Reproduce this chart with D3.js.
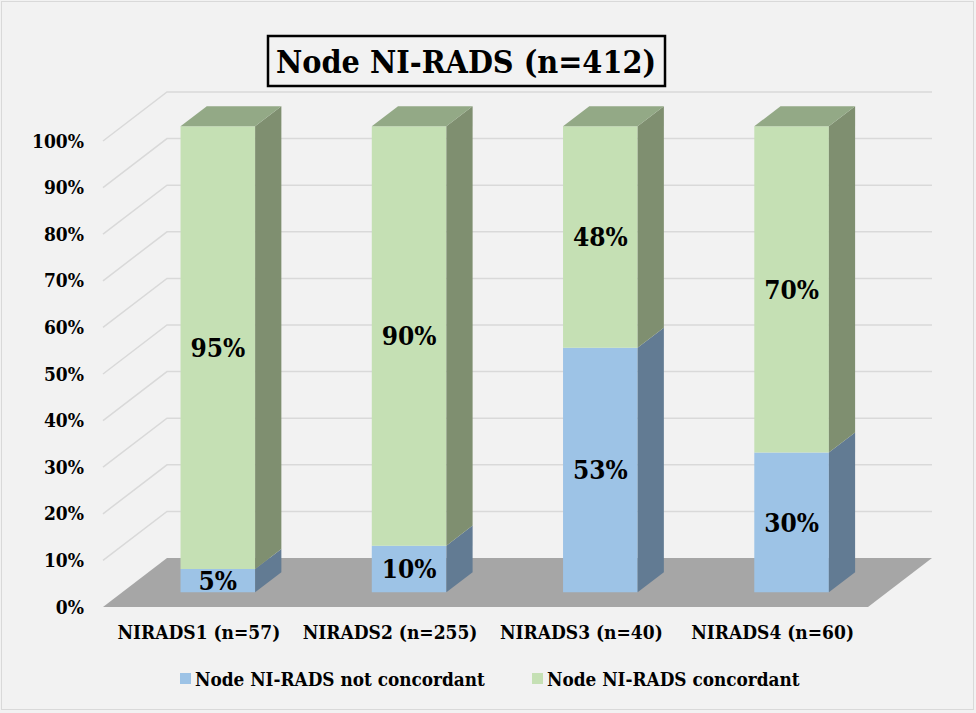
<!DOCTYPE html>
<html>
<head>
<meta charset="utf-8">
<script src="https://cdn.jsdelivr.net/npm/d3@7"></script>
<style>
  body { margin: 0; background: #F2F2F2; }
  svg text { font-weight: bold; fill: #000; }
</style>
</head>
<body>
<div id="chart"></div>
<script>
// data
const categories = ["NIRADS1 (n=57)", "NIRADS2 (n=255)", "NIRADS3 (n=40)", "NIRADS4 (n=60)"];
const notConcordant = [5, 10, 53, 30];
const concordant = [95, 90, 48, 70];
const seriesNames = ["Node NI-RADS not concordant", "Node NI-RADS concordant"];
const yTicks = [0, 10, 20, 30, 40, 50, 60, 70, 80, 90, 100];

const W = 976, H = 713;
const FONT = "'DejaVu Serif Condensed', 'DejaVu Serif', serif";
const depthX = 64, depthY = 49;    // oblique offset of the full floor depth
const barD0 = 0.3, barD1 = 0.71;   // bars sit in the middle of the floor depth

const colors = {
  blue:  { front: "#9DC3E6", side: "#627B93", top: "#7E9CB8" },
  green: { front: "#C5E0B4", side: "#7F8F70", top: "#93A986" }
};

const svg = d3.select("#chart").append("svg")
  .attr("width", W)
  .attr("height", H)
  .style("font-family", FONT);

svg.append("rect")
  .attr("x", 1.5).attr("y", 1.5)
  .attr("width", W - 4).attr("height", H - 5)
  .attr("fill", "#F2F2F2")
  .attr("stroke", "#D9D9D9");

const x = d3.scaleBand().domain(categories).range([103, 868]);
const y = d3.scaleLinear().domain([0, 100]).range([607, 141]);

// point on a depth plane
const P = (px, v, d) => [px + depthX * d, y(v) - depthY * d];
const poly = pts => pts.map(p => p.join(",")).join(" ");

// grid: back wall + left wall
const grid = svg.append("g");
yTicks.filter(t => t > 0).forEach(t => {
  const a = P(x.range()[0], t, 0), b = P(x.range()[0], t, 1), c = P(x.range()[1], t, 1);
  grid.append("polyline")
    .attr("points", poly([a, b, c]))
    .attr("fill", "none")
    .attr("stroke", "#D9D9D9")
    .attr("stroke-width", 1.5);
});

// floor
svg.append("polygon")
  .attr("points", poly([
    P(x.range()[0], 0, 0), P(x.range()[1], 0, 0),
    P(x.range()[1], 0, 1), P(x.range()[0], 0, 1)
  ]))
  .attr("fill", "#A6A6A6");

// y axis labels
svg.append("g").selectAll("text")
  .data(yTicks)
  .enter().append("text")
  .attr("x", 84)
  .attr("y", d => y(d))
  .attr("dy", "0.35em")
  .attr("text-anchor", "end")
  .style("font-size", "19px")
  .text(d => d + "%");

// stacked 100% bars
const rows = categories.map((c, i) => {
  const total = notConcordant[i] + concordant[i];
  return { cat: c, parts: [
    { key: "blue", label: notConcordant[i], v0: 0, v1: notConcordant[i] / total * 100 },
    { key: "green", label: concordant[i], v0: notConcordant[i] / total * 100, v1: 100 }
  ]};
});

const barW = x.bandwidth() * 0.39;
const bars = svg.append("g");
rows.forEach(row => {
  const x0 = x(row.cat) + (x.bandwidth() - barW) / 2;
  const x1 = x0 + barW;
  row.parts.forEach((p, j) => {
    const col = colors[p.key];
    // front
    bars.append("polygon")
      .attr("points", poly([P(x0, p.v0, barD0), P(x1, p.v0, barD0), P(x1, p.v1, barD0), P(x0, p.v1, barD0)]))
      .attr("fill", col.front);
    // right side
    bars.append("polygon")
      .attr("points", poly([P(x1, p.v0, barD0), P(x1, p.v0, barD1), P(x1, p.v1, barD1), P(x1, p.v1, barD0)]))
      .attr("fill", col.side);
    // top
    if (j === row.parts.length - 1) {
      bars.append("polygon")
        .attr("points", poly([P(x0, p.v1, barD0), P(x1, p.v1, barD0), P(x1, p.v1, barD1), P(x0, p.v1, barD1)]))
        .attr("fill", col.top);
    }
    // value label
    const c = P((x0 + x1) / 2, (p.v0 + p.v1) / 2, barD0);
    bars.append("text")
      .attr("x", c[0])
      .attr("y", c[1])
      .attr("dy", "0.35em")
      .attr("text-anchor", "middle")
      .style("font-size", "26px")
      .text(p.label + "%");
  });
});

// category labels
svg.append("g").selectAll("text")
  .data(categories)
  .enter().append("text")
  .attr("x", d => x(d) + x.bandwidth() / 2 + 0.3 * depthX - 19)
  .attr("y", 639)
  .attr("text-anchor", "middle")
  .style("font-size", "19px")
  .text(d => d);

// title box
svg.append("rect")
  .attr("x", 268).attr("y", 36)
  .attr("width", 397).attr("height", 50)
  .attr("fill", "#F2F2F2")
  .attr("stroke", "#000")
  .attr("stroke-width", 2.5);
svg.append("text")
  .attr("x", 466).attr("y", 73)
  .attr("text-anchor", "middle")
  .style("font-size", "32px")
  .text("Node NI-RADS (n=412)");

// legend
const legendX = [180, 532];
const legend = svg.append("g");
seriesNames.forEach((name, i) => {
  legend.append("rect")
    .attr("x", legendX[i]).attr("y", 673)
    .attr("width", 11).attr("height", 11)
    .attr("fill", i === 0 ? colors.blue.front : colors.green.front);
  legend.append("text")
    .attr("x", legendX[i] + 15).attr("y", 686)
    .style("font-size", "18.8px")
    .text(name);
});
</script>
</body>
</html>
